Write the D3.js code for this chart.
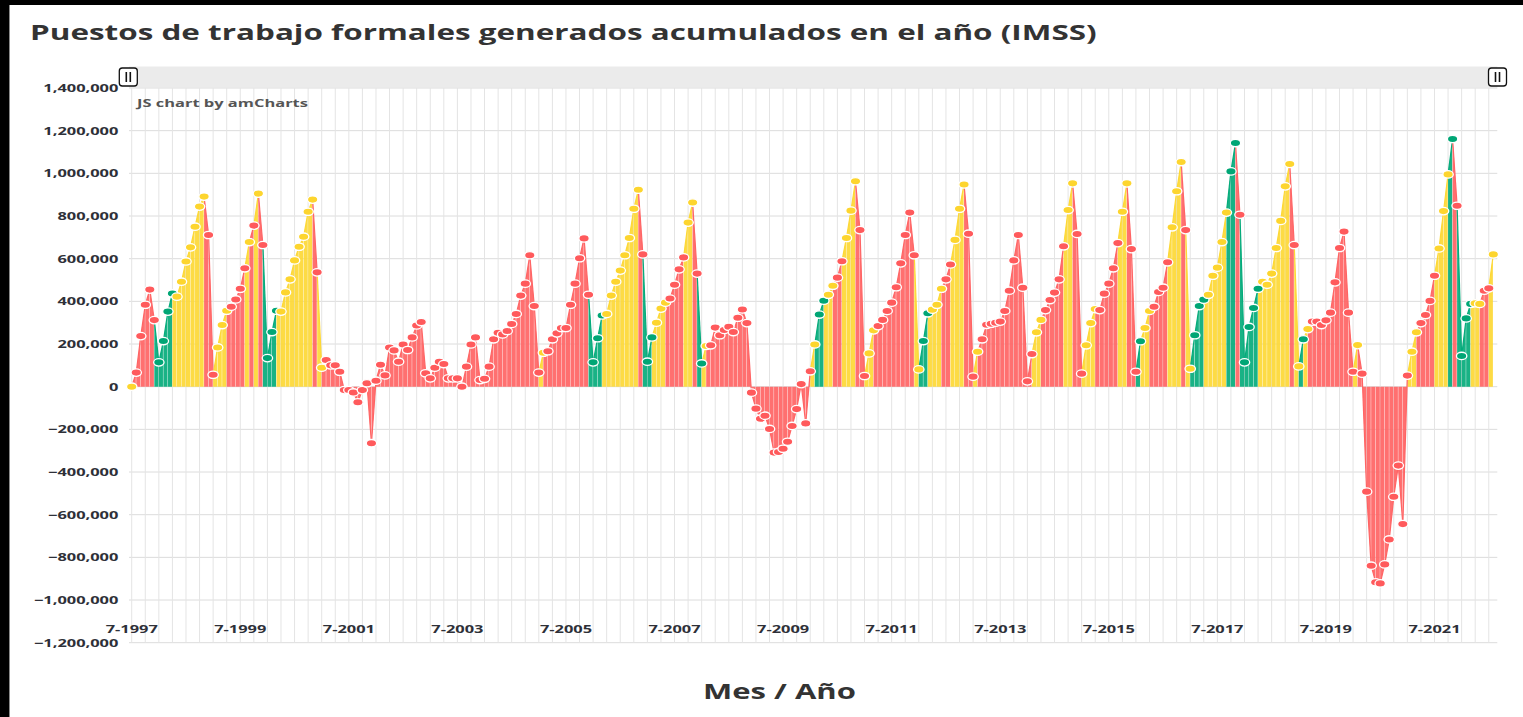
<!DOCTYPE html>
<html>
<head>
<meta charset="utf-8">
<script src="https://cdn.jsdelivr.net/npm/d3@7"></script>
<style>
  body { margin: 0; background: #fff; }
  text { font-family: "Open Sans", sans-serif; }
</style>
</head>
<body>
<script>
// accumulated formal jobs in the year (thousands), monthly from 7-1997
const empleos = [
    0, 66, 237, 384, 455, 312, 114, 214, 352, 437, 422, 492,
    587, 653, 750, 844, 891, 711, 56, 184, 289, 356, 375, 409,
    459, 555, 678, 755, 905, 664, 134, 256, 356, 352, 442, 503,
    592, 656, 703, 820, 877, 536, 89, 125, 100, 100, 70, -16,
    -16, -27, -73, -16, 16, -265, 28, 103, 53, 184, 170, 117,
    198, 172, 231, 287, 303, 63, 39, 89, 117, 106, 39, 39,
    39, 0, 94, 198, 231, 31, 37, 94, 222, 253, 245, 261,
    294, 341, 427, 483, 616, 378, 66, 159, 166, 222, 250, 275,
    275, 384, 483, 602, 695, 431, 114, 227, 334, 341, 427, 492,
    544, 616, 697, 834, 923, 620, 117, 231, 300, 366, 394, 413,
    478, 550, 606, 769, 863, 530, 109, 191, 194, 277, 241, 266,
    281, 256, 323, 362, 298, -28, -103, -150, -136, -198, -309, -306,
    -291, -258, -184, -105, 12, -172, 72, 198, 338, 403, 431, 473,
    511, 588, 697, 825, 963, 734, 50, 156, 264, 284, 313, 355,
    394, 466, 578, 711, 816, 616, 81, 214, 344, 361, 384, 459,
    503, 573, 688, 834, 948, 717, 47, 164, 222, 290, 295, 300,
    305, 355, 450, 592, 711, 464, 25, 153, 255, 313, 359, 406,
    441, 503, 658, 828, 953, 716, 61, 194, 298, 364, 359, 436,
    483, 555, 673, 820, 953, 645, 70, 213, 275, 355, 375, 444,
    464, 583, 747, 916, 1053, 734, 84, 241, 378, 408, 431, 520,
    558, 678, 816, 1009, 1142, 806, 114, 280, 369, 459, 492, 478,
    530, 650, 777, 939, 1044, 664, 95, 222, 270, 305, 305, 289,
    311, 347, 489, 650, 727, 347, 70, 195, 61, -492, -839, -917,
    -922, -833, -716, -516, -370, -644, 52, 164, 255, 298, 336, 402,
    520, 648, 823, 995, 1161, 848, 144, 320, 388, 391, 388, 450,
    461, 620
];

// colour class of every month: R red, Y yellow, G green
const clases = [
    "Y","R","R","R","R","R","G","G","G","G","Y","Y",
    "Y","Y","Y","Y","Y","R","R","Y","Y","Y","R","R",
    "R","R","Y","R","Y","R","G","G","G","Y","Y","Y",
    "Y","Y","Y","Y","Y","R","Y","R","R","R","R","R",
    "R","R","R","R","R","R","R","R","R","R","R","R",
    "R","R","R","R","R","R","R","R","R","R","R","R",
    "R","R","R","R","R","R","R","R","R","R","R","R",
    "R","R","R","R","R","R","R","Y","R","R","R","R",
    "R","R","R","R","R","R","G","G","G","Y","Y","Y",
    "Y","Y","Y","Y","Y","R","G","G","Y","Y","Y","R",
    "R","R","R","Y","Y","R","G","Y","R","R","R","R",
    "R","R","R","R","R","R","R","R","R","R","R","R",
    "R","R","R","R","R","R","R","Y","G","G","Y","Y",
    "R","R","Y","Y","Y","R","R","Y","Y","R","R","R",
    "R","R","R","R","R","R","Y","G","G","Y","Y","Y",
    "R","R","Y","Y","Y","R","R","Y","R","R","R","R",
    "R","R","R","R","R","R","R","R","Y","Y","R","R",
    "R","R","R","Y","Y","R","R","Y","Y","Y","R","R",
    "R","R","R","Y","Y","R","R","G","Y","Y","R","R",
    "R","R","Y","Y","Y","R","Y","G","G","G","Y","Y",
    "Y","Y","Y","G","G","R","G","G","G","G","Y","Y",
    "Y","Y","Y","Y","Y","R","Y","G","Y","R","R","R",
    "R","R","R","R","R","R","R","Y","R","R","R","R",
    "R","R","R","R","R","R","R","Y","Y","R","R","R",
    "R","Y","Y","Y","G","R","G","G","G","Y","Y","R",
    "R","Y"
];

const xTickLabels = ["7-1997","7-1999","7-2001","7-2003","7-2005","7-2007","7-2009",
                     "7-2011","7-2013","7-2015","7-2017","7-2019","7-2021"];
const yTicks = [-1200000,-1000000,-800000,-600000,-400000,-200000,0,
                200000,400000,600000,800000,1000000,1200000,1400000];

function main(){
    const canvasWidth = 1523;
    const canvasHeight = 717;
    const plotLeft = 129, plotRight = 1497.3;

    const fillColor = {R: "#ff6464", Y: "#fdd835", G: "#05ab7b"};
    const dotColor = {R: "#ff5a5c", Y: "#fdd52e", G: "#00a675"};

    // month categories 7-1997, 8-1997, ...
    const meses = empleos.map((d, i) => ((6 + i) % 12 + 1) + "-" + (1997 + Math.floor((6 + i) / 12)));

    const svg = d3.select("body").append("svg")
        .attr("width", canvasWidth)
        .attr("height", canvasHeight);

    // squeeze/stretch text horizontally to a given width
    function fit(g, w){
        const len = g.select("text").node().getComputedTextLength();
        return w / len;
    }

    // dark frame of the screenshot
    svg.append("rect").attr("x",0).attr("y",0).attr("width",canvasWidth).attr("height",5).attr("fill","#000");
    svg.append("rect").attr("x",0).attr("y",0).attr("width",9).attr("height",canvasHeight).attr("fill","#000");
    svg.append("line").attr("x1",9.5).attr("x2",9.5).attr("y1",5).attr("y2",canvasHeight)
        .attr("stroke","#8a8a8a");

    const title = svg.append("g");
    title.append("text")
        .attr("font-size","22px")
        .attr("font-weight","bold")
        .attr("fill","#333")
        .text("Puestos de trabajo formales generados acumulados en el año (IMSS)");
    title.attr("transform","translate(30,40) scale(" + fit(title, 1067) + ",1)");

    const xScale = d3.scalePoint().domain(meses).range([131.7, 1493.3]);
    const yScale = d3.scaleLinear().domain([-1200000, 1400000]).range([642.7, 88]);

    // scrollbar band
    svg.append("rect")
        .attr("x", plotLeft).attr("y", 66.5)
        .attr("width", plotRight - plotLeft).attr("height", 21)
        .attr("fill", "#ebebeb");

    // grid
    svg.append("g").selectAll("line")
        .data(yTicks)
        .enter()
        .append("line")
        .attr("x1", plotLeft).attr("x2", plotRight)
        .attr("y1", d => yScale(d)).attr("y2", d => yScale(d))
        .attr("stroke", "#dcdcdc");

    svg.append("g").selectAll("line")
        .data(meses.filter((d, i) => i % 3 == 0))
        .enter()
        .append("line")
        .attr("x1", d => xScale(d)).attr("x2", d => xScale(d))
        .attr("y1", yScale(1400000)).attr("y2", yScale(-1200000))
        .attr("stroke", "#e4e4e4");

    // area segments, each coloured by its end month
    const segs = empleos.slice(1).map((v, k) => ({
        x0: xScale(meses[k]), y0: yScale(empleos[k] * 1000),
        x1: xScale(meses[k + 1]), y1: yScale(v * 1000),
        c: clases[k + 1]
    }));
    const zero = yScale(0);

    svg.append("g").selectAll("polygon")
        .data(segs)
        .enter()
        .append("polygon")
        .attr("points", d => [[d.x0, zero], [d.x0, d.y0], [d.x1 - 0.4, d.y1 + (d.y0 - d.y1) * 0.4 / (d.x1 - d.x0)], [d.x1 - 0.4, zero]].join(" "))
        .attr("fill", d => fillColor[d.c])
        .attr("fill-opacity", 0.92);

    svg.append("g").selectAll("line")
        .data(segs)
        .enter()
        .append("line")
        .attr("x1", d => d.x0).attr("y1", d => d.y0)
        .attr("x2", d => d.x1).attr("y2", d => d.y1)
        .attr("stroke", d => fillColor[d.c])
        .attr("stroke-width", 1.2);

    svg.append("g").selectAll("ellipse")
        .data(empleos)
        .enter()
        .append("ellipse")
        .attr("cx", (d, i) => xScale(meses[i]))
        .attr("cy", d => yScale(d * 1000))
        .attr("rx", 5.2).attr("ry", 3.7)
        .attr("fill", (d, i) => dotColor[clases[i]])
        .attr("stroke", "#fff")
        .attr("stroke-width", 1.3);

    // scrollbar grips
    [128.3, 1497.5].forEach(cx => {
        const grip = svg.append("g").attr("transform", "translate(" + cx + ",77)");
        grip.append("rect").attr("x",-9).attr("y",-9).attr("width",18).attr("height",18)
            .attr("rx",3).attr("fill","#fff").attr("stroke","#111").attr("stroke-width",1.3);
        grip.append("line").attr("x1",-2).attr("x2",-2).attr("y1",-5).attr("y2",5).attr("stroke","#111").attr("stroke-width",1.6);
        grip.append("line").attr("x1",2).attr("x2",2).attr("y1",-5).attr("y2",5).attr("stroke","#111").attr("stroke-width",1.6);
    });

    const credit = svg.append("g");
    credit.append("text")
        .attr("font-size","11px")
        .attr("font-weight","bold")
        .attr("fill","#555")
        .text("JS chart by amCharts");
    credit.attr("transform","translate(137,107) scale(" + fit(credit, 171) + ",1)");

    // axis labels, stretched like the screenshot
    const probe = svg.append("g");
    probe.append("text").attr("font-size","11px").attr("font-weight","bold").text("1,400,000");
    const k = fit(probe, 75);
    probe.remove();

    const fmt = d3.format(",");
    svg.append("g").selectAll("g")
        .data(yTicks)
        .enter()
        .append("g")
        .attr("transform", d => "translate(118.3," + yScale(d) + ") scale(" + k + ",1)")
        .append("text")
        .attr("text-anchor","end")
        .attr("dy","0.35em")
        .attr("font-size","11px")
        .attr("font-weight","bold")
        .attr("fill","#2e3038")
        .text(d => fmt(d));

    svg.append("g").selectAll("g")
        .data(xTickLabels)
        .enter()
        .append("g")
        .attr("transform", d => "translate(" + xScale(d) + ",629) scale(" + k + ",1)")
        .append("text")
        .attr("text-anchor","middle")
        .attr("dy","0.35em")
        .attr("font-size","11px")
        .attr("font-weight","bold")
        .attr("fill","#2e3038")
        .text(d => d);

    const xTitle = svg.append("g");
    xTitle.append("text")
        .attr("text-anchor","middle")
        .attr("dy","0.35em")
        .attr("font-size","21px")
        .attr("font-weight","bold")
        .attr("fill","#333")
        .text("Mes / Año");
    xTitle.attr("transform","translate(779.5,692) scale(" + fit(xTitle, 153) + ",1)");
}
main();
</script>
</body>
</html>
